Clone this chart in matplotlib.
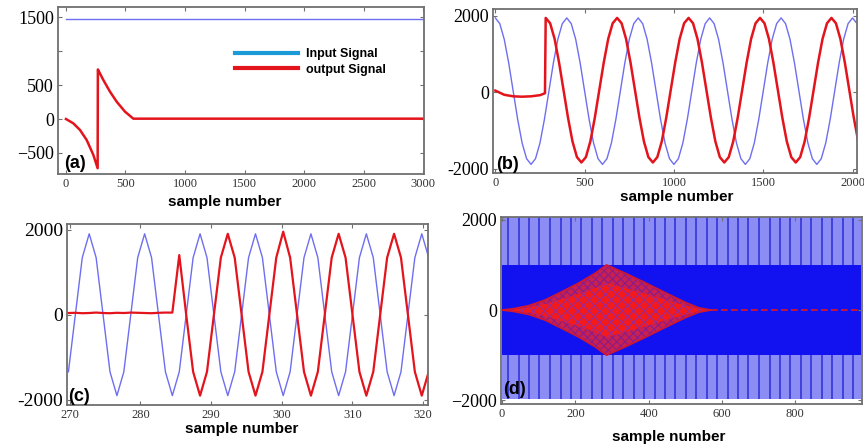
import numpy as np
import matplotlib
matplotlib.use('Agg')
import matplotlib.pyplot as plt
from matplotlib.lines import Line2D

# ---- panel (a): step input, transient output
a_in_x = [0, 3000]
a_in_y = [1470, 1470]
a_out_x = [0, 62, 118, 174, 230, 266, 268, 280, 314, 370, 426, 496, 566, 3000]
a_out_y = [0, -64, -162, -309, -529, -725, 730, 690, 574, 402, 255, 108, 5, 5]

# ---- panel (b): sine input, output locks on after ~280 samples
b_in_x = np.arange(0, 2026, 25)
b_in_y = [1950, 1800, 1390, 770, 35, -700, -1320, -1730, -1880, -1730, -1320, -700, 35, 770, 1390, 1800,
          1950, 1800, 1390, 770, 35, -700, -1320, -1730, -1880, -1730, -1320, -700, 35, 770, 1390, 1800,
          1950, 1800, 1390, 770, 35, -700, -1320, -1730, -1880, -1730, -1320, -700, 35, 770, 1390, 1800,
          1950, 1800, 1390, 770, 35, -700, -1320, -1730, -1880, -1730, -1320, -700, 35, 770, 1390, 1800,
          1950, 1800, 1390, 770, 35, -700, -1320, -1730, -1880, -1730, -1320, -700, 35, 770, 1390, 1800,
          1950, 1800]
b_out_x = [0, 50, 100, 150, 200, 250, 278] + list(np.arange(282, 2033, 25))
b_out_y = [50, -60, -100, -110, -100, -70, -20,
           1950, 1810, 1400, 780, 60, -660, -1280, -1690, -1830, -1690, -1280, -660, 60, 780, 1400, 1810,
           1950, 1810, 1400, 780, 60, -660, -1280, -1690, -1830, -1690, -1280, -660, 60, 780, 1400, 1810,
           1950, 1810, 1400, 780, 60, -660, -1280, -1690, -1830, -1690, -1280, -660, 60, 780, 1400, 1810,
           1950, 1810, 1400, 780, 60, -660, -1280, -1690, -1830, -1690, -1280, -660, 60, 780, 1400, 1810,
           1950, 1810, 1400, 780, 60, -660, -1280]

# ---- panel (c): zoom around the switch-on, samples 270-320
c_x = np.linspace(269.8, 320.8, 53)
c_in_y = [-1340, 0, 1340, 1900, 1340, 0, -1340, -1900,
          -1340, 0, 1340, 1900, 1340, 0, -1340, -1900,
          -1340, 0, 1340, 1900, 1340, 0, -1340, -1900,
          -1340, 0, 1340, 1900, 1340, 0, -1340, -1900,
          -1340, 0, 1340, 1900, 1340, 0, -1340, -1900,
          -1340, 0, 1340, 1900, 1340, 0, -1340, -1900,
          -1340, 0, 1340, 1900, 1340]
c_out_y = [40, 45, 35, 40, 50, 40, 35, 45, 40, 50, 45, 40, 35, 45, 50, 50,
           1400,
           0, -1340, -1900, -1340, 0, 1340, 1900, 1340,
           0, -1340, -1900, -1340, 0, 1340, 1950, 1340,
           0, -1340, -1900, -1340, 0, 1340, 1900, 1340,
           0, -1340, -1900, -1340, 0, 1340, 1900, 1340,
           0, -1340, -1900, -1340]

# ---- panel (d): dense high frequency input, diamond-shaped output envelope
d_x = [0, 980]
d_band_lo, d_band_hi = -1960, 2060
d_inner = 1000
d_stripe_x = [17, 45, 74, 102, 131, 160, 188, 216, 245, 273, 302, 330, 359, 388, 416, 444, 473,
              502, 530, 558, 587, 616, 644, 672, 701, 730, 758, 786, 815, 844, 872, 900, 929, 958]
d_env_x = [0, 30, 72, 117, 163, 208, 254, 285, 340, 390, 445, 500, 536, 570]
d_env_y = [0, 30, 96, 222, 407, 593, 815, 1000, 800, 607, 385, 170, 50, 0]
d_tail_x = [570, 980]
d_tail_y = [0, 0]

BLUE = '#6e6ef0'
RED = '#e3141c'
tickfont = 'Liberation Serif'
labfont = 'Liberation Sans'
plt.rcParams['hatch.linewidth'] = 0.8

W, H = 864, 444
fig = plt.figure(figsize=(W / 100, H / 100), dpi=100)


def box(l, r, t, b):
    return [l / W, 1 - b / H, (r - l) / W, (b - t) / H]


def style(ax, xt, yt, ylab, ysize=13, xsize=9):
    for s in ax.spines.values():
        s.set_color('#707070')
        s.set_linewidth(1.3)
    ax.set_xticks(xt)
    ax.set_yticks(yt)
    ax.set_yticklabels(ylab)
    ax.tick_params(direction='in', length=3, width=0.8, colors='#707070',
                   top=True, right=True, pad=3)
    for lab in ax.get_xticklabels():
        lab.set_fontfamily(tickfont)
        lab.set_fontsize(xsize)
        lab.set_color('#333333')
    for lab in ax.get_yticklabels():
        lab.set_fontfamily(tickfont)
        lab.set_fontsize(ysize)
        lab.set_color('black')


# (a)
ax = fig.add_axes(box(58, 424, 7, 174))
ax.plot(a_in_x, a_in_y, color=BLUE, lw=1.0)
ax.plot(a_out_x, a_out_y, color=RED, lw=1.8)
ax.set_xlim(-67, 3008)
ax.set_ylim(-810, 1650)
style(ax, range(0, 3001, 500), [-500, 0, 500, 1000, 1500], ['\u2212500', '0', '500', '', '1500'])
ax.text(0.016, 0.01, '(a)', transform=ax.transAxes, fontsize=13, fontweight='bold',
        family=labfont, va='bottom')
hand = [Line2D([], [], color='#1a9ad6', lw=3), Line2D([], [], color=RED, lw=3)]
leg = ax.legend(hand, ['Input Signal', 'output Signal'], loc='upper left',
                bbox_to_anchor=(0.47, 0.785), frameon=False, handlelength=5.0,
                prop={'family': labfont, 'weight': 'bold', 'size': 9},
                borderaxespad=0, labelspacing=0.3, handletextpad=0.7)
fig.text(225 / W, 1 - 202 / H, 'sample number', ha='center', va='center',
         family=labfont, fontweight='bold', fontsize=11)

# (b)
ax = fig.add_axes(box(493, 857, 9, 173))
ax.plot(b_in_x, b_in_y, color=BLUE, lw=1.0)
ax.plot(b_out_x, b_out_y, color=RED, lw=1.8)
ax.set_xlim(-13, 2025)
ax.set_ylim(-2105, 2183)
style(ax, range(0, 2001, 500), [-2000, 0, 2000], ['-2000', '0', '2000'])
ax.text(0.008, 0.0, '(b)', transform=ax.transAxes, fontsize=13, fontweight='bold',
        family=labfont, va='bottom')
fig.text(677 / W, 1 - 197 / H, 'sample number', ha='center', va='center',
         family=labfont, fontweight='bold', fontsize=11)

# (c)
ax = fig.add_axes(box(67, 428, 224, 405))
ax.plot(c_x, c_in_y, color=BLUE, lw=1.0)
ax.plot(c_x, c_out_y, color=RED, lw=1.6)
ax.set_xlim(269.6, 320.7)
ax.set_ylim(-2120, 2130)
style(ax, range(270, 321, 10), [-2000, 0, 2000], ['-2000', '0', '2000'], ysize=14)
ax.text(0.004, 0.0, '(c)', transform=ax.transAxes, fontsize=13, fontweight='bold',
        family=labfont, va='bottom')
fig.text(242 / W, 1 - 429 / H, 'sample number', ha='center', va='center',
         family=labfont, fontweight='bold', fontsize=11)

# (d)
ax = fig.add_axes(box(501, 862, 217, 404))
ax.fill_between(d_x, d_band_lo, d_band_hi, color='#8c8cf5', lw=0)
ax.vlines(d_stripe_x, d_band_lo, -d_inner, color='#3434d8', lw=1.2)
ax.vlines(d_stripe_x, d_inner, d_band_hi, color='#3434d8', lw=1.2)
ax.fill_between(d_x, -d_inner, d_inner, color='#1212f0', lw=0)
env = np.array(d_env_y)
ax.fill_between(d_env_x, -env, env, facecolor='#c82050', edgecolor='#8a1c8c',
                hatch='xxxx', lw=0)
ax.fill_between(d_env_x, -env * 0.6, env * 0.6, facecolor='#f41a1a', edgecolor='#9a2a9a',
                hatch='xxx', lw=0)
ax.plot(d_env_x, env, color='#d01830', lw=1.2)
ax.plot(d_env_x, -env, color='#d01830', lw=1.2)
ax.plot(d_tail_x, d_tail_y, color=RED, lw=1.2, ls=(0, (4, 2)))
ax.set_xlim(-3, 982)
ax.set_ylim(-2080, 2060)
style(ax, range(0, 801, 200), [-2000, 0, 2000], ['\u22122000', '0', '2000'])
ax.text(0.006, 0.03, '(d)', transform=ax.transAxes, fontsize=13, fontweight='bold',
        family=labfont, va='bottom')
fig.text(669 / W, 1 - 437 / H, 'sample number', ha='center', va='center',
         family=labfont, fontweight='bold', fontsize=11)

fig.savefig('out.png', dpi=100, facecolor='white')
